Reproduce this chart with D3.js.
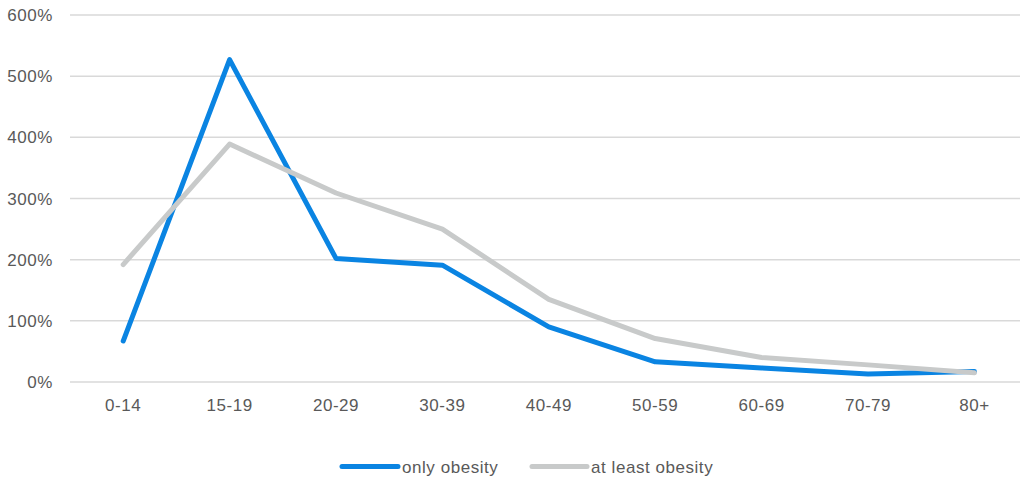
<!DOCTYPE html>
<html>
<head>
<meta charset="utf-8">
<script src="https://cdn.jsdelivr.net/npm/d3@7"></script>
<style>
  html, body { margin: 0; padding: 0; background: #fff; }
  svg { display: block; font-family: "Liberation Sans", Arial, sans-serif; }
  text { letter-spacing: 0.55px; }
</style>
</head>
<body>
<svg id="chart" width="1021" height="481"></svg>
<script>
// Age groups on the x axis
const ageGroups = ["0-14", "15-19", "20-29", "30-39", "40-49", "50-59", "60-69", "70-79", "80+"];
// Values in percent
const onlyObesity = [67, 527, 202, 191, 90, 33, 23, 13, 17];
const atLeastObesity = [192, 389, 309, 250, 135, 71, 40, 28, 15];
const yTicks = [0, 100, 200, 300, 400, 500, 600];
const seriesNames = ["only obesity", "at least obesity"];
const seriesColors = ["#0A84E2", "#C8CACA"];

const svg = d3.select("#chart");
const plotLeft = 70, plotRight = 1020, plotTop = 15, plotBottom = 382;

const x = d3.scaleBand().domain(ageGroups).range([plotLeft, plotLeft + 9 * 106.4]);
const y = d3.scaleLinear().domain([0, 600]).range([plotBottom, plotTop]);

// Horizontal gridlines
svg.append("g").selectAll("line").data(yTicks).join("line")
  .attr("x1", plotLeft).attr("x2", plotRight)
  .attr("y1", d => y(d)).attr("y2", d => y(d))
  .attr("stroke", "#D9D9D9").attr("stroke-width", 1.5);

// Y axis labels
svg.append("g").selectAll("text").data(yTicks).join("text")
  .attr("x", 53).attr("y", d => y(d) + 6)
  .attr("text-anchor", "end")
  .attr("fill", "#595959").attr("font-size", 17)
  .text(d => d + "%");

// X axis labels
svg.append("g").selectAll("text").data(ageGroups).join("text")
  .attr("x", d => x(d) + x.bandwidth() / 2).attr("y", 411)
  .attr("text-anchor", "middle")
  .attr("fill", "#595959").attr("font-size", 17)
  .text(d => d);

const line = d3.line()
  .x((d, i) => x(ageGroups[i]) + x.bandwidth() / 2)
  .y(d => y(d));

[onlyObesity, atLeastObesity].forEach((vals, k) => {
  svg.append("path").datum(vals)
    .attr("d", line)
    .attr("fill", "none")
    .attr("stroke", seriesColors[k])
    .attr("stroke-width", 5)
    .attr("stroke-linecap", "round")
    .attr("stroke-linejoin", "round");
});

// Legend
const legendItems = [
  { x1: 342, x2: 398, tx: 402 },
  { x1: 532, x2: 587, tx: 591 }
];
legendItems.forEach((it, k) => {
  svg.append("line")
    .attr("x1", it.x1).attr("x2", it.x2)
    .attr("y1", 466.5).attr("y2", 466.5)
    .attr("stroke", seriesColors[k]).attr("stroke-width", 5)
    .attr("stroke-linecap", "round");
  svg.append("text")
    .attr("x", it.tx).attr("y", 472.5)
    .attr("fill", "#595959").attr("font-size", 17)
    .text(seriesNames[k]);
});
</script>
</body>
</html>
